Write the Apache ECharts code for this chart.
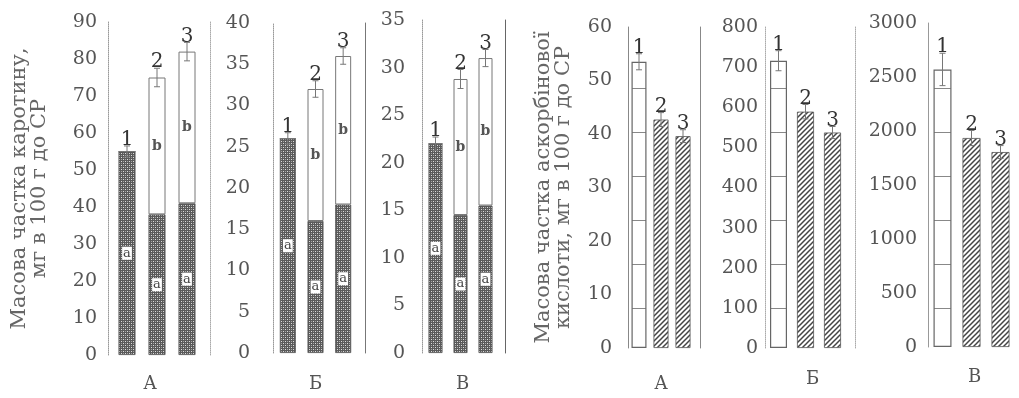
<!DOCTYPE html>
<html>
<head>
<meta charset="utf-8">
<script src="https://cdn.jsdelivr.net/npm/echarts@6/dist/echarts.min.js"></script>
<style>html,body{margin:0;padding:0;background:#fff}#c{width:1019px;height:398px}</style>
</head>
<body>
<div id="c"></div>
<script>
// ---------- data ----------
const barCats = ['1', '2', '3'];
const panelLetters = ['А', 'Б', 'В'];
const caroteneTitle = 'Масова частка каротину,\nмг в 100 г до СР';
const ascorbicTitle = 'Масова частка аскорбінової\nкислоти, мг в 100 г до СР';

// carotene (stacked: a = dark part, b = white part)
const carA_a = [55, 38, 41];
const carA_b = [0, 37, 41];
const carA_err = [1.5, 2.5, 2.5];
const carB_a = [26, 16, 18];
const carB_b = [0, 16, 18];
const carB_err = [0.7, 1, 1];
const carV_a = [22, 14.5, 15.5];
const carV_b = [0, 14.3, 15.5];
const carV_err = [0.7, 1, 0.9];

// ascorbic acid
const ascA = [53.5, 42.7, 39.6];
const ascA_err = [1.5, 1.3, 1.2];
const ascB = [716, 589, 537];
const ascB_err = [25, 18, 15];
const ascV = [2570, 1935, 1805];
const ascV_err = [150, 70, 60];

// axis tick ranges
const yMax = [90, 40, 35, 60, 800, 3000];
const yStep = [10, 5, 5, 10, 100, 500];

// ---------- patterns ----------
function mkCanvas(w, h) { const c = document.createElement('canvas'); c.width = w; c.height = h; return c; }
const dark = mkCanvas(4, 4);
(function () {
  const g = dark.getContext('2d');
  g.fillStyle = '#5a5a5a'; g.fillRect(0, 0, 4, 4);
  g.fillStyle = '#dcdcdc'; g.fillRect(1, 1, 1, 1); g.fillRect(3, 3, 1, 1);
  g.fillStyle = '#a4a4a4'; g.fillRect(3, 1, 1, 1); g.fillRect(1, 3, 1, 1);
})();
const hatch = mkCanvas(5, 5);
(function () {
  const g = hatch.getContext('2d');
  g.fillStyle = '#fff'; g.fillRect(0, 0, 5, 5);
  g.strokeStyle = '#444'; g.lineWidth = 1.5;
  g.beginPath();
  g.moveTo(-1, 6); g.lineTo(6, -1);
  g.moveTo(-1, 1); g.lineTo(1, -1);
  g.moveTo(4, 6); g.lineTo(6, 4);
  g.stroke();
})();
const lined = mkCanvas(4, 44);
(function () {
  const g = lined.getContext('2d');
  g.fillStyle = '#fff'; g.fillRect(0, 0, 4, 44);
  g.fillStyle = '#888'; g.fillRect(0, 0, 4, 1);
})();
const darkFill = { image: dark, repeat: 'repeat' };
const hatchFill = { image: hatch, repeat: 'repeat' };
const linedFill = { image: lined, repeat: 'repeat' };

// ---------- layout ----------
const grids = [
  { left: 112, top: 22, width: 90, height: 345 },
  { left: 274, top: 23, width: 83, height: 335 },
  { left: 423, top: 20, width: 75, height: 338 },
  { left: 628, top: 27, width: 66, height: 323 },
  { left: 765, top: 27, width: 81, height: 321 },
  { left: 928, top: 23, width: 87, height: 324 }
];
const leftOffset = [4, 1, 1, 0, 0, 0];
const labelMargin = [11, 23, 17, 16, 7, 11];
const rightOffset = [8, 8, 7, 6, 9, null];
const leftLine = [
  { color: '#999', type: 'dotted' }, { color: '#999', type: 'dotted' }, { color: '#999', type: 'dotted' },
  { color: '#888', type: 'solid' }, { color: '#aaa', type: 'dotted' }, { color: '#999', type: 'solid' }
];
const rightLine = [
  { color: '#aaa', type: 'dotted' }, { color: '#777', type: 'solid' }, { color: '#666', type: 'solid' },
  { color: '#888', type: 'solid' }, { color: '#aaa', type: 'dotted' }, null
];
const xNameGap = [20, 22, 22, 27, 22, 21];
const xNamePad = [[0, 14, 0, 0], 0, [0, 0, 0, 4], 0, [0, 0, 0, 14], [0, 0, 0, 6]];
const barW = [17, 16, 14, 15, 17, 18];

const serif = 'DejaVu Serif';

const xAxis = [], yAxis = [], series = [];
grids.forEach((g, i) => {
  xAxis.push({
    type: 'category', gridIndex: i, data: barCats,
    axisLine: { show: false }, axisTick: { show: false }, axisLabel: { show: false },
    name: panelLetters[i % 3], nameLocation: 'middle', nameGap: xNameGap[i],
    nameTextStyle: { fontFamily: serif, fontSize: 18, color: '#555', padding: xNamePad[i] }
  });
  const ya = {
    type: 'value', gridIndex: i, min: 0, max: yMax[i], interval: yStep[i],
    offset: leftOffset[i],
    axisLine: { show: true, lineStyle: Object.assign({ width: 1 }, leftLine[i]) },
    axisTick: { show: false }, splitLine: { show: false },
    axisLabel: { margin: labelMargin[i], fontFamily: serif, fontSize: 19, color: '#555', formatter: v => String(v) }
  };
  if (i === 0 || i === 3) {
    ya.name = i === 0 ? caroteneTitle : ascorbicTitle;
    ya.nameLocation = 'middle';
    ya.nameRotate = 90;
    ya.nameGap = i === 0 ? 58 : 54;
    ya.nameTextStyle = { fontFamily: serif, fontSize: 21, lineHeight: 20, color: '#666' };
  }
  yAxis.push(ya);
});
// right boundary lines
grids.forEach((g, i) => {
  if (!rightLine[i]) return;
  yAxis.push({
    type: 'value', gridIndex: i, position: 'right', min: 0, max: yMax[i], interval: yStep[i],
    offset: rightOffset[i],
    axisLine: { show: true, lineStyle: Object.assign({ width: 1 }, rightLine[i]) },
    axisTick: { show: false }, axisLabel: { show: false }, splitLine: { show: false }
  });
});

const aLabel = {
  show: true, position: 'inside', formatter: 'a',
  fontFamily: serif, fontSize: 13, color: '#444', backgroundColor: '#fff', padding: [0, 1]
};
const bLabel = {
  show: true, position: 'inside', formatter: p => (p.value > 0 ? 'b' : ''),
  fontFamily: serif, fontSize: 14, fontWeight: 'bold', color: '#555'
};

function errSeries(i, totals, errs) {
  return {
    type: 'custom', xAxisIndex: i, yAxisIndex: i, z: 5,
    data: totals.map((v, k) => [k, v, errs[k]]),
    renderItem: (params, api) => {
      const x = api.value(0), v = api.value(1), e = api.value(2);
      const top = api.coord([x, v + e]);
      const bot = api.coord([x, v - e]);
      const cx = top[0];
      const lc = { stroke: '#777', lineWidth: 1 };
      return {
        type: 'group',
        children: [
          { type: 'line', shape: { x1: cx, y1: top[1], x2: cx, y2: bot[1] }, style: lc },
          { type: 'line', shape: { x1: cx - 3, y1: top[1], x2: cx + 3, y2: top[1] }, style: lc },
          { type: 'line', shape: { x1: cx - 3, y1: bot[1], x2: cx + 3, y2: bot[1] }, style: lc },
          {
            type: 'text', x: cx, y: top[1] + 4,
            style: {
              text: barCats[x], fontFamily: serif, fontSize: 20, fill: '#333',
              align: 'center', verticalAlign: 'bottom'
            }
          }
        ]
      };
    }
  };
}

function carotene(i, a, b, err) {
  series.push({
    type: 'bar', xAxisIndex: i, yAxisIndex: i, stack: 's' + i, data: a, barWidth: barW[i],
    itemStyle: { color: darkFill, borderColor: '#555', borderWidth: 0.8 }, label: aLabel
  });
  series.push({
    type: 'bar', xAxisIndex: i, yAxisIndex: i, stack: 's' + i, data: b, barWidth: barW[i],
    itemStyle: { color: '#fff', borderColor: '#777', borderWidth: 1 }, label: bLabel
  });
  series.push(errSeries(i, a.map((v, k) => v + b[k]), err));
}
function ascorbic(i, vals, err) {
  series.push({
    type: 'bar', xAxisIndex: i, yAxisIndex: i, data: vals.map((v, k) => ({
      value: v,
      itemStyle: k === 0
        ? { color: linedFill, borderColor: '#666', borderWidth: 1.2 }
        : { color: hatchFill, borderColor: '#555', borderWidth: 0.8 }
    })),
    barWidth: barW[i]
  });
  series.push(errSeries(i, vals, err));
}

carotene(0, carA_a, carA_b, carA_err);
carotene(1, carB_a, carB_b, carB_err);
carotene(2, carV_a, carV_b, carV_err);
ascorbic(3, ascA, ascA_err);
ascorbic(4, ascB, ascB_err);
ascorbic(5, ascV, ascV_err);

const chart = echarts.init(document.getElementById('c'), null, { renderer: 'canvas' });
chart.setOption({
  animation: false,
  backgroundColor: '#fff',
  grid: grids,
  xAxis: xAxis,
  yAxis: yAxis,
  series: series
});
</script>
</body>
</html>
